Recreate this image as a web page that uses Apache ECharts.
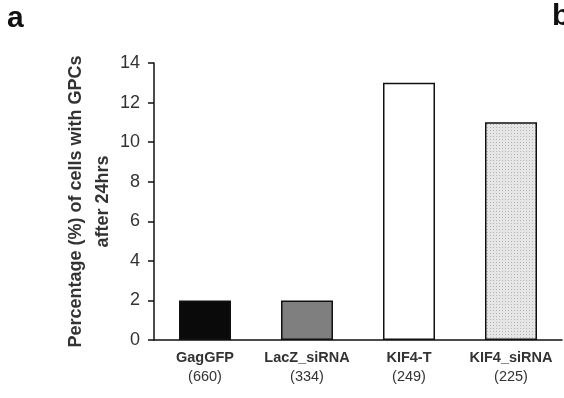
<!DOCTYPE html>
<html><head><meta charset="utf-8">
<script src="https://cdn.jsdelivr.net/npm/echarts@6/dist/echarts.min.js"></script>
<style>html,body{margin:0;padding:0;background:#fff}#c{width:564px;height:398px}</style>
</head><body><div id="c"></div>
<script>
const categories = ['GagGFP', 'LacZ_siRNA', 'KIF4-T', 'KIF4_siRNA'];
const cellCounts = ['(660)', '(334)', '(249)', '(225)'];
const values = [2, 2, 13, 11];
const yTicks = [0, 2, 4, 6, 8, 10, 12, 14];

const pat = document.createElement('canvas');
pat.width = 3; pat.height = 3;
const pc = pat.getContext('2d');
pc.fillStyle = '#e6e6e6'; pc.fillRect(0, 0, 3, 3);
pc.fillStyle = '#b4b4b4'; pc.fillRect(1, 1, 1, 1);

const fills = ['#0a0a0a', '#7f7f7f', '#ffffff', {image: pat, repeat: 'repeat'}];
const font = 'Arial, "Liberation Sans", sans-serif';

const chart = echarts.init(document.getElementById('c'), null, {renderer: 'canvas'});
chart.setOption({
  animation: false,
  backgroundColor: '#fff',
  grid: {left: 154, right: 2, top: 63, bottom: 58, containLabel: false},
  graphic: [
    {type: 'text', left: 7, top: 4, style: {text: 'a', font: 'bold 30px ' + font, fill: '#111'}},
    {type: 'text', left: 552, top: 2, style: {text: 'b', font: 'bold 30px ' + font, fill: '#111'}}
  ],
  xAxis: {
    type: 'category',
    data: categories.map((c, i) => c + '\n' + cellCounts[i]),
    axisLine: {show: true, lineStyle: {color: '#111', width: 1.5}},
    axisTick: {show: false},
    axisLabel: {
      interval: 0, margin: 8,
      formatter: (v) => { const p = v.split('\n'); return '{a|' + p[0] + '}\n{b|' + p[1] + '}'; },
      rich: {
        a: {fontFamily: font, fontSize: 14.5, fontWeight: 'bold', color: '#333', lineHeight: 19},
        b: {fontFamily: font, fontSize: 14.5, color: '#333', lineHeight: 19}
      }
    }
  },
  yAxis: {
    type: 'value', min: 0, max: 14, interval: 2,
    name: 'Percentage (%) of cells with GPCs\nafter 24hrs',
    nameLocation: 'middle', nameRotate: 90, nameGap: 37, nameMoveOverlap: false,
    nameTextStyle: {fontFamily: font, fontSize: 18, fontWeight: 'bold', color: '#333', lineHeight: 27, align: 'center'},
    axisLine: {show: true, lineStyle: {color: '#111', width: 1.5}},
    axisTick: {show: true, inside: false, length: 6, lineStyle: {color: '#111', width: 1.5}},
    splitLine: {show: false},
    axisLabel: {fontFamily: font, fontSize: 18, color: '#333', margin: 14,
      formatter: (v) => yTicks.includes(v) ? String(v) : ''}
  },
  series: [{
    type: 'bar',
    barWidth: 52,
    data: values.map((v, i) => ({value: v, itemStyle: {color: fills[i], borderColor: '#111', borderWidth: 1.5}}))
  }]
});
</script></body></html>
